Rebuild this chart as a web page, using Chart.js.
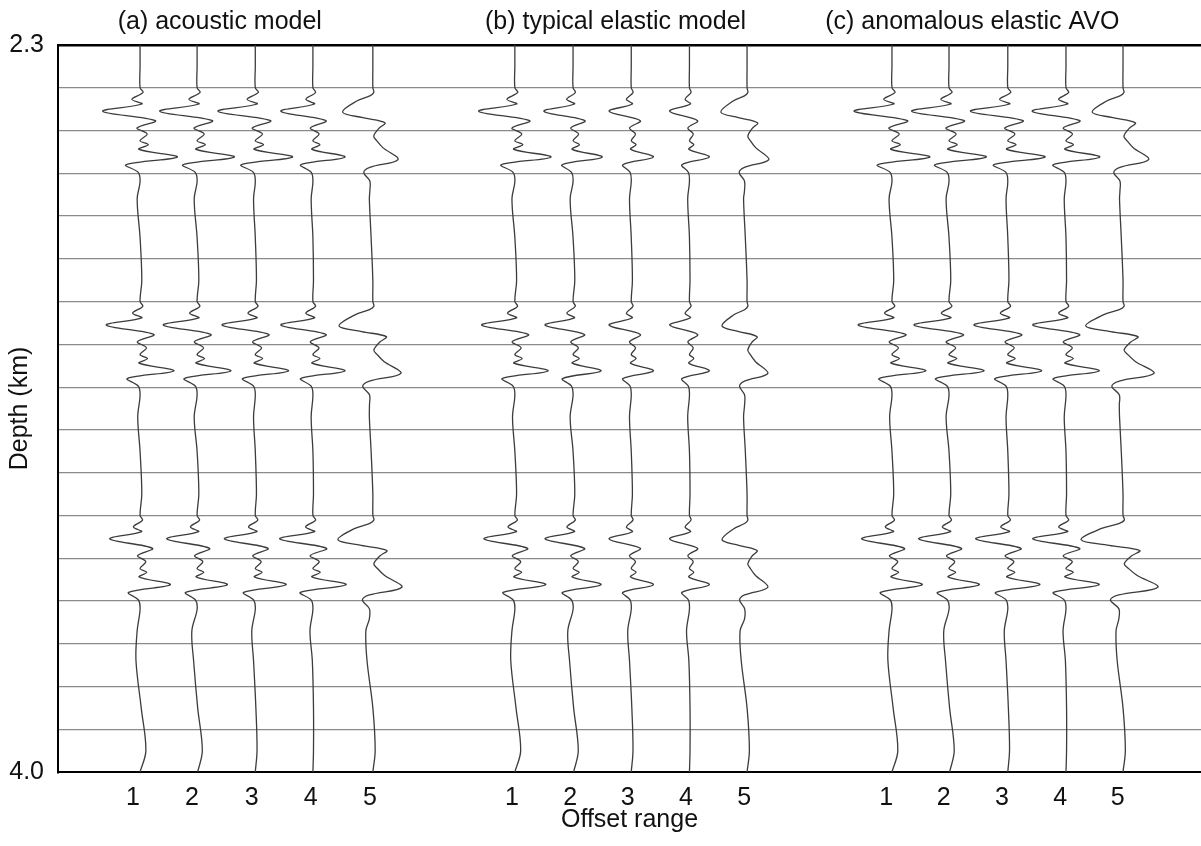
<!DOCTYPE html>
<html>
<head>
<meta charset="utf-8">
<script src="https://cdn.jsdelivr.net/npm/chart.js@4.4.1/dist/chart.umd.min.js"></script>
<style>
  html, body { margin: 0; padding: 0; background: #fff; }
  #wrap { width: 1201px; height: 846px; }
</style>
</head>
<body>
<div id="wrap"><canvas id="seismic" width="1201" height="846"></canvas></div>
<script>
// depth grid (km), labelled depths
const depthTicks = [2.3, 2.4, 2.5, 2.6, 2.7, 2.8, 2.9, 3.0, 3.1, 3.2, 3.3, 3.4, 3.5, 3.6, 3.7, 3.8, 3.9, 4.0];
const depthLabels = [2.3, 4.0];

// offset axis: labels and where they sit
const offsetLabels = ['1', '2', '3', '4', '5'];
const offsetTickPos = [0.88, 1.89, 2.92, 3.93, 4.95,
                       7.39, 8.39, 9.38, 10.38, 11.38,
                       13.82, 14.81, 15.81, 16.81, 17.80];

const panelTitles = ['(a) acoustic model', '(b) typical elastic model', '(c) anomalous elastic AVO'];
const panelTitlePos = [2.37, 9.17, 15.3];

// trace baselines (offset-axis units)
const tracePosA = [1, 1.98, 2.98, 3.97, 5.0];
const tracePosB = [7.44, 8.44, 9.44, 10.44, 11.43];
const tracePosC = [13.92, 14.9, 15.91, 16.91, 17.89];

// top depth of the three reflection events
const eventDepths = [2.4, 2.9, 3.4];

// wavelet: depth below event top (km), normalised swing
const nearT = [0, 0.011, 0.027, 0.038, 0.055, 0.077, 0.094, 0.108, 0.124, 0.133, 0.144, 0.162, 0.180, 0.198, 0.22];
const nearV = [0, 0.08, -0.22, 0.05, -1, 0.41, -0.08, 0.19, 0, 0.22, -0.03, 1.0, -0.38, -0.05, 0];
const farT = [0, 0.011, 0.019, 0.031, 0.057, 0.070, 0.082, 0.095, 0.113, 0.124, 0.140, 0.168, 0.186, 0.198, 0.218, 0.242];
const farV = [0, 0.03, -0.1, -0.53, -1, -0.33, 0.4, 0.2, 0.03, 0.13, 0.33, 0.83, -0.1, -0.3, -0.1, -0.1];

// swing size per event (rows) and offset (columns), offset-axis units
const ampA = [[0.64, 0.64, 0.64, 0.55, 0.52],
              [0.58, 0.58, 0.57, 0.55, 0.58],
              [0.52, 0.52, 0.53, 0.57, 0.60]];
const ampB = [[0.62, 0.50, 0.38, 0.34, 0.45],
              [0.57, 0.48, 0.38, 0.34, 0.43],
              [0.53, 0.48, 0.38, 0.34, 0.43]];
const ampC = [[0.65, 0.64, 0.64, 0.58, 0.53],
              [0.58, 0.60, 0.58, 0.57, 0.64],
              [0.52, 0.52, 0.55, 0.57, 0.72]];

// slow wander of the trace between events
const driftDepths = [2.3, 2.35, 2.66, 2.75, 2.85, 3.17, 3.25, 3.35, 3.67, 3.74, 3.85, 3.95, 4.0];
const drift1 = [0, 0, -0.05, 0.0, 0.03, -0.04, 0.0, 0.03, -0.05, -0.07, 0.02, 0.10, 0];
const drift2 = [0, 0, -0.05, 0.0, 0.03, -0.05, 0.0, 0.03, -0.09, -0.06, 0.01, 0.09, 0.01];
const drift3 = [0, 0, -0.03, 0.0, 0.02, -0.03, 0.0, 0.02, -0.06, -0.03, 0.01, 0.03, 0];
const drift4 = [0, 0, -0.03, 0.0, 0.01, -0.03, 0.0, 0.01, -0.05, -0.01, 0.01, 0.01, 0];
const drift5 = [0, 0, -0.06, -0.03, 0.0, -0.06, -0.03, 0.0, -0.12, -0.10, 0.0, 0.04, 0];
const drifts = [drift1, drift2, drift3, drift4, drift5];

function buildTrace(base, amps, col) {
    const pts = [];
    driftDepths.forEach((d, i) => pts.push({ x: base + drifts[col][i], y: d }));
    const t = col === 4 ? farT : nearT;
    const v = col === 4 ? farV : nearV;
    eventDepths.forEach((d0, e) => {
        t.forEach((dt, i) => pts.push({ x: base + amps[e][col] * v[i], y: d0 + dt }));
    });
    pts.sort((a, b) => a.y - b.y);
    return pts;
}

const datasets = [];
[[tracePosA, ampA], [tracePosB, ampB], [tracePosC, ampC]].forEach(([pos, amp]) => {
    pos.forEach((p, col) => {
        datasets.push({
            data: buildTrace(p, amp, col),
            showLine: true,
            borderColor: '#3c3c3c',
            borderWidth: 1.3,
            pointRadius: 0,
            tension: 0.35,
            fill: false
        });
    });
});

const FONT = '"Liberation Sans", Arial, Helvetica, sans-serif';

// panel titles above the plot
const panelTitlePlugin = {
    id: 'panelTitles',
    afterDraw(chart) {
        const ctx = chart.ctx;
        const x = chart.scales.x;
        ctx.save();
        ctx.font = '25px ' + FONT;
        ctx.fillStyle = '#111';
        ctx.textAlign = 'center';
        ctx.textBaseline = 'middle';
        panelTitles.forEach((t, i) => ctx.fillText(t, x.getPixelForValue(panelTitlePos[i]), 22));
        ctx.restore();
    }
};

const ctx = document.getElementById('seismic').getContext('2d');
new Chart(ctx, {
    type: 'scatter',
    data: { datasets: datasets },
    options: {
        responsive: false,
        animation: false,
        devicePixelRatio: 1,
        layout: { padding: { top: 45, left: 0, right: 0, bottom: 0 } },
        plugins: { legend: { display: false }, tooltip: { enabled: false } },
        scales: {
            x: {
                type: 'linear',
                min: -0.41,
                max: 19.23,
                afterBuildTicks: s => { s.ticks = offsetTickPos.map(v => ({ value: v })); },
                afterFit: s => { s.height = 74; },
                grid: { display: false, drawTicks: false },
                border: { display: true, color: '#000', width: 2 },
                ticks: {
                    autoSkip: false,
                    maxRotation: 0,
                    padding: 11,
                    color: '#111',
                    font: { family: FONT, size: 25 },
                    callback: (v, i) => offsetLabels[i % 5]
                },
                title: {
                    display: true,
                    text: 'Offset range',
                    color: '#111',
                    font: { family: FONT, size: 25 },
                    padding: { bottom: 11 }
                }
            },
            y: {
                type: 'linear',
                reverse: true,
                min: 2.3,
                max: 4.0,
                afterBuildTicks: s => { s.ticks = depthTicks.map(v => ({ value: v })); },
                afterFit: s => { s.width = 58; },
                grid: {
                    drawTicks: false,
                    color: c => (c.tick && c.tick.value === 2.3) ? '#000' : '#8a8a8a',
                    lineWidth: c => (c.tick && c.tick.value === 2.3) ? 2.5 : 1.2
                },
                border: { display: true, color: '#000', width: 2 },
                ticks: {
                    autoSkip: false,
                    padding: 14,
                    color: '#111',
                    font: { family: FONT, size: 25 },
                    callback: v => depthLabels.includes(v) ? v.toFixed(1) : ''
                },
                title: {
                    display: true,
                    text: 'Depth (km)',
                    color: '#111',
                    font: { family: FONT, size: 25 },
                    padding: { top: 5 }
                }
            }
        }
    },
    plugins: [panelTitlePlugin]
});
</script>
</body>
</html>
